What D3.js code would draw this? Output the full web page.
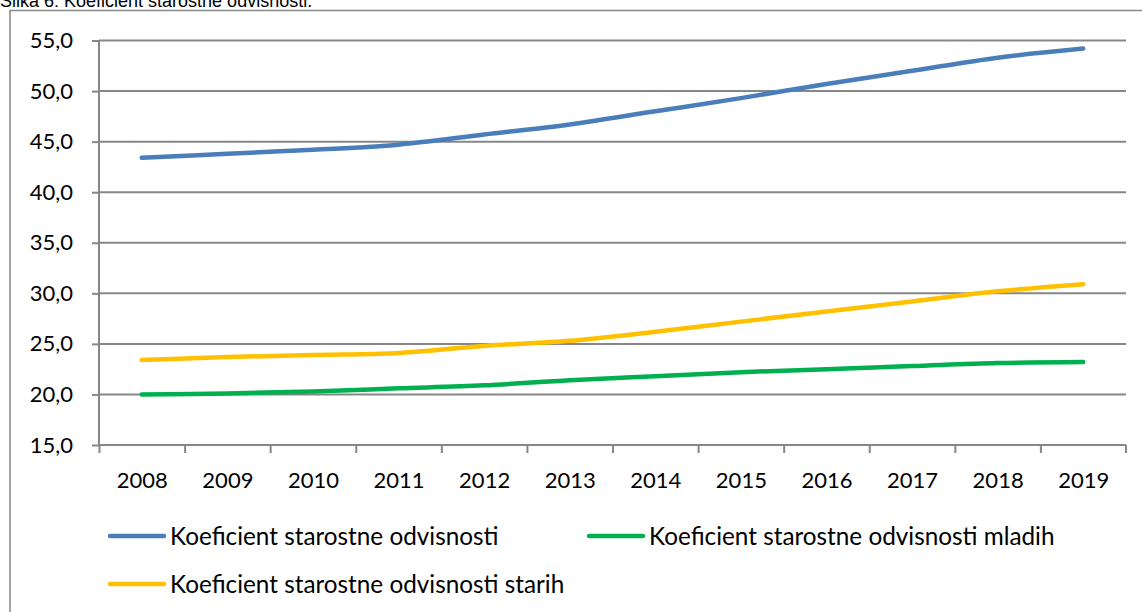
<!DOCTYPE html>
<html>
<head>
<meta charset="utf-8">
<script src="https://cdn.jsdelivr.net/npm/d3@7"></script>
<style>
  body { margin: 0; background: #fff; }
  svg { display: block; }
</style>
</head>
<body>
<div id="chart"></div>
<script>
// data
const years = ["2008", "2009", "2010", "2011", "2012", "2013", "2014", "2015", "2016", "2017", "2018", "2019"];
const skupaj = [43.4, 43.8, 44.2, 44.7, 45.7, 46.7, 48.0, 49.3, 50.7, 52.0, 53.3, 54.2];
const mladi = [20.0, 20.1, 20.3, 20.6, 20.9, 21.4, 21.8, 22.2, 22.5, 22.8, 23.1, 23.2];
const stari = [23.4, 23.7, 23.9, 24.1, 24.8, 25.3, 26.2, 27.2, 28.2, 29.2, 30.2, 30.9];
const yTicks = [15, 20, 25, 30, 35, 40, 45, 50, 55];
const seriesNames = [
    "Koeficient starostne odvisnosti",
    "Koeficient starostne odvisnosti mladih",
    "Koeficient starostne odvisnosti starih"
];

const W = 1142, H = 612;
const margin = {left: 99, right: 16, top: 40.5, bottom: 167};
const gridColor = "#878787";
const font = "Lato, 'Open Sans', sans-serif";

const svg = d3.select("#chart").append("svg")
    .attr("width", W)
    .attr("height", H);

// title, partly cut off at the top like in the source
svg.append("text")
    .attr("x", 0)
    .attr("y", 7)
    .style("font-family", "'Liberation Sans', Arial, sans-serif")
    .style("font-size", "18px")
    .text("Slika 6: Koeficient starostne odvisnosti.");

// chart frame
svg.append("rect")
    .attr("x", 10)
    .attr("y", 10.5)
    .attr("width", W + 20)
    .attr("height", H + 20)
    .attr("fill", "none")
    .attr("stroke", gridColor)
    .attr("stroke-width", 1.5);

const x = d3.scalePoint()
    .domain(years)
    .range([margin.left, W - margin.right])
    .padding(0.5);

const band = d3.scaleBand()
    .domain(years)
    .range([margin.left, W - margin.right]);

const y = d3.scaleLinear()
    .domain([15, 55])
    .range([H - margin.bottom, margin.top]);

// horizontal gridlines
svg.append("g")
    .selectAll("line")
    .data(yTicks.slice(1))
    .enter()
    .append("line")
    .attr("x1", margin.left)
    .attr("x2", W - margin.right)
    .attr("y1", d => y(d))
    .attr("y2", d => y(d))
    .attr("stroke", gridColor)
    .attr("stroke-width", 2);

// y axis
const yAxis = svg.append("g")
    .attr("transform", `translate(${margin.left},0)`)
    .call(d3.axisLeft(y).tickValues(yTicks).tickSize(7).tickPadding(19)
        .tickFormat(d => d3.format(".1f")(d).replace(".", ",")));

// x axis, ticks between categories
const xAxis = svg.append("g")
    .attr("transform", `translate(0,${y(15)})`)
    .call(d3.axisBottom(x).tickSize(0).tickPadding(36));

xAxis.selectAll(".tick").each(function(d) {
    d3.select(this).append("line")
        .attr("x1", band(d) - x(d))
        .attr("x2", band(d) - x(d))
        .attr("y2", 8);
});
xAxis.append("line")
    .attr("x1", W - margin.right)
    .attr("x2", W - margin.right)
    .attr("y2", 8);

[yAxis, xAxis].forEach(ax => {
    ax.select(".domain").attr("stroke", gridColor).attr("stroke-width", 2);
    ax.selectAll("line").attr("stroke", gridColor).attr("stroke-width", 2);
    ax.selectAll("text")
        .style("font-family", font)
        .style("font-size", "22px")
        .attr("fill", "#000");
});
yAxis.select(".domain").attr("d", `M0,${y(15)}V${y(55)}`);
xAxis.select(".domain").attr("d", `M${margin.left},0H${W - margin.right}`);
xAxis.selectAll(".tick text").attr("dy", "0.32em");

// series lines
const series = [
    {name: seriesNames[0], values: skupaj, color: "#4A7EBB"},
    {name: seriesNames[1], values: mladi, color: "#00B050"},
    {name: seriesNames[2], values: stari, color: "#FFC000"}
];

const line = d3.line()
    .x((d, i) => x(years[i]))
    .y(d => y(d))
    .curve(d3.curveCatmullRom.alpha(0.5));

svg.append("g")
    .selectAll("path")
    .data(series)
    .enter()
    .append("path")
    .attr("d", d => line(d.values))
    .attr("fill", "none")
    .attr("stroke", d => d.color)
    .attr("stroke-width", 4.5)
    .attr("stroke-linecap", "round")
    .attr("stroke-linejoin", "round");

// legend
const legendPos = [[110, 536], [589, 536], [110, 584]];
const legend = svg.append("g")
    .selectAll("g")
    .data(series)
    .enter()
    .append("g")
    .attr("transform", (d, i) => `translate(${legendPos[i][0]},${legendPos[i][1]})`);

legend.append("line")
    .attr("x1", 0)
    .attr("x2", 54)
    .attr("stroke", d => d.color)
    .attr("stroke-width", 4.5)
    .attr("stroke-linecap", "round");

legend.append("text")
    .attr("x", 60)
    .attr("y", 8.5)
    .style("font-family", font)
    .style("font-size", "24.3px")
    .text(d => d.name);
</script>
</body>
</html>
